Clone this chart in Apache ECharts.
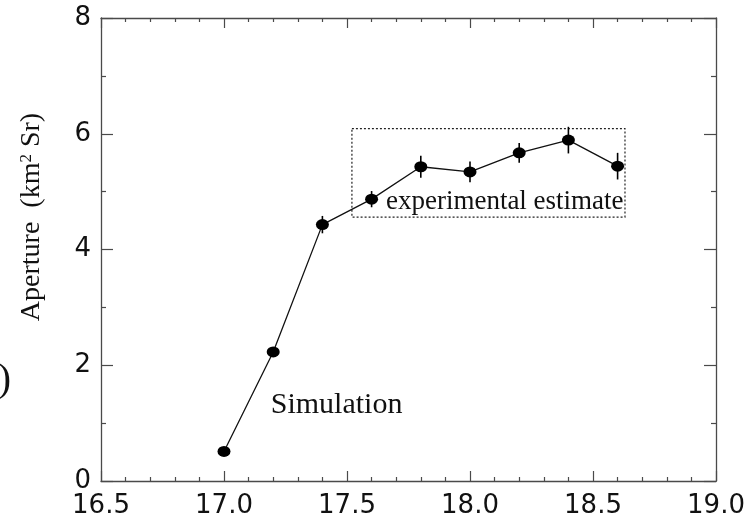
<!DOCTYPE html>
<html>
<head>
<meta charset="utf-8">
<script src="https://cdn.jsdelivr.net/npm/echarts@6/dist/echarts.min.js"></script>
<style>
  html, body { margin: 0; padding: 0; background: #fff; }
  #chart { width: 748px; height: 519px; }
</style>
</head>
<body>
<div id="chart"></div>
<script>
// log10 of shower energy (eV)
const energy = [17.0, 17.2, 17.4, 17.6, 17.8, 18.0, 18.2, 18.4, 18.6];
// aperture in km^2 sr
const aperture = [0.51, 2.23, 4.43, 4.87, 5.43, 5.34, 5.67, 5.89, 5.44];
// half-length of the vertical error bars
const apertureErr = [0, 0, 0.15, 0.14, 0.19, 0.18, 0.17, 0.23, 0.23];
// corners of the dotted box around the experimental estimate
const boxCorners = [[17.52, 6.09], [18.63, 4.56]];
// where the "Simulation" note starts
const simulationNote = [17.19, 1.31];
const xTicks = [16.5, 17.0, 17.5, 18.0, 18.5, 19.0];
const yTicks = [0, 2, 4, 6, 8];

const axisColor = '#4a4a4a';
const labelFont = { fontFamily: 'DejaVu Sans', fontSize: 26, color: '#111' };

const points = energy.map((e, i) => [e, aperture[i]]);
const errData = energy.map((e, i) => [e, aperture[i], apertureErr[i]]);

const baseX = {
  type: 'value',
  min: xTicks[0],
  max: xTicks[xTicks.length - 1],
  interval: 0.5,
  splitLine: { show: false },
  axisLine: { show: true, onZero: false, lineStyle: { color: axisColor, width: 1.3 } },
  axisTick: { show: true, inside: true, length: 10, lineStyle: { color: axisColor, width: 1.2 } },
  minorTick: { show: true, splitNumber: 5, length: 4, lineStyle: { color: axisColor, width: 1.2 } },
  minorSplitLine: { show: false }
};
const baseY = {
  type: 'value',
  min: yTicks[0],
  max: yTicks[yTicks.length - 1],
  interval: 2,
  splitLine: { show: false },
  axisLine: { show: true, onZero: false, lineStyle: { color: axisColor, width: 1.3 } },
  axisTick: { show: true, inside: true, length: 12, lineStyle: { color: axisColor, width: 1.2 } },
  minorTick: { show: true, splitNumber: 2, length: 5, lineStyle: { color: axisColor, width: 1.2 } },
  minorSplitLine: { show: false }
};

const chart = echarts.init(document.getElementById('chart'), null, { renderer: 'canvas' });
chart.setOption({
  backgroundColor: '#ffffff',
  animation: false,
  grid: { left: 101, right: 32, top: 18, bottom: 37, containLabel: false },
  xAxis: [
    Object.assign({}, baseX, {
      position: 'bottom',
      axisLabel: Object.assign({ margin: 12, formatter: v => v.toFixed(1) }, labelFont)
    }),
    Object.assign({}, baseX, { position: 'top', axisLabel: { show: false } })
  ],
  yAxis: [
    Object.assign({}, baseY, {
      position: 'left',
      axisLabel: Object.assign({ margin: 10, formatter: v => String(v) }, labelFont)
    }),
    Object.assign({}, baseY, { position: 'right', axisLabel: { show: false } })
  ],
  graphic: [
    {
      type: 'text',
      x: 32,
      y: 217,
      rotation: Math.PI / 2,
      style: {
        text: 'Aperture  (km{sup|2} Sr)',
        font: '28px "Liberation Serif"',
        fill: '#111',
        align: 'center',
        verticalAlign: 'middle',
        rich: {
          sup: { fontSize: 17, fontFamily: 'Liberation Serif', verticalAlign: 'top', fill: '#111' }
        }
      }
    },
    {
      type: 'text',
      x: 11,
      y: 380,
      style: {
        text: ')',
        font: '40px "Liberation Serif"',
        fill: '#111',
        align: 'right',
        verticalAlign: 'middle'
      }
    }
  ],
  series: [
    {
      type: 'line',
      data: points,
      symbol: 'circle',
      symbolSize: [13, 11],
      itemStyle: { color: '#000' },
      lineStyle: { color: '#111', width: 1.3 },
      z: 3,
      markArea: {
        silent: true,
        itemStyle: {
          color: 'rgba(0,0,0,0)',
          borderColor: '#222',
          borderWidth: 1.2,
          borderType: [2, 2]
        },
        label: {
          show: true,
          position: 'insideBottomRight',
          distance: 2,
          fontFamily: 'Liberation Serif',
          fontSize: 27,
          color: '#111'
        },
        data: [[
          { name: 'experimental estimate', coord: boxCorners[0] },
          { coord: boxCorners[1] }
        ]]
      },
      markPoint: {
        silent: true,
        symbol: 'circle',
        symbolSize: 0,
        label: {
          show: true,
          position: 'right',
          distance: 0,
          formatter: 'Simulation',
          fontFamily: 'Liberation Serif',
          fontSize: 30,
          color: '#111'
        },
        data: [{ coord: simulationNote }]
      }
    },
    {
      type: 'custom',
      data: errData,
      z: 4,
      renderItem: function (params, api) {
        const x = api.value(0), y = api.value(1), e = api.value(2);
        if (!e) return null;
        const top = api.coord([x, y + e]);
        const bot = api.coord([x, y - e]);
        return {
          type: 'line',
          shape: { x1: top[0], y1: top[1], x2: bot[0], y2: bot[1] },
          style: { stroke: '#000', lineWidth: 1.6 }
        };
      }
    }
  ]
});
</script>
</body>
</html>
